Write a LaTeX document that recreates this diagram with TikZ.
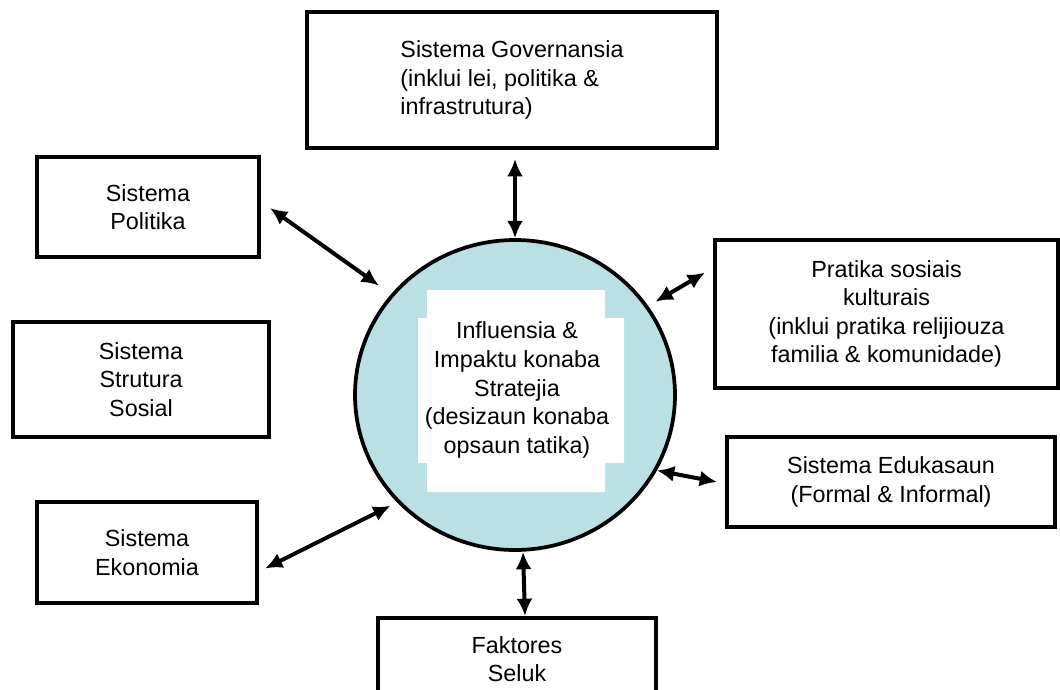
\documentclass[tikz,border=0pt]{standalone}
\usepackage{fontspec}
\setmainfont{Liberation Sans}
\usetikzlibrary{arrows.meta,shapes.geometric}
\definecolor{coreblue}{RGB}{186,224,228}
\tikzset{>={Latex[length=13pt,width=12pt]}}

\begin{document}
\begin{tikzpicture}[x=0.75pt,y=-0.75pt,
		txt/.style={font=\fontsize{17.5}{21.4}\selectfont, align=center},
		sysbox/.style={draw, line width=3pt, txt, inner sep=0pt},
		link/.style={<->, line width=3pt}]
		\useasboundingbox (0,0) rectangle (1060,689);
		\clip (0,0) rectangle (1060,689);
		\node[ellipse, draw, line width=2.8pt, fill=coreblue, minimum width=240pt, minimum height=232.5pt] (core) at (515,395) {};
		\fill[white] (427,290) rectangle (605,492) (418,318) rectangle (624,463);
		\node[txt] (coretext) at (517,390) {Influensia \&\\Impaktu konaba\\Stratejia\\(desizaun konaba\\opsaun tatika)};
		\node[sysbox, align=left, minimum width=307.5pt, minimum height=102pt] (gov) at (512,80) {Sistema Governansia\\(inklui lei, politika \&\\infrastrutura)};
		\node[sysbox, minimum width=166.5pt, minimum height=75pt] (pol) at (148,207) {Sistema\\Politika};
		\node[sysbox, minimum width=192pt, minimum height=86.25pt] (soc) at (141,379.5) {Sistema\\Strutura\\Sosial};
		\node[sysbox, minimum width=165pt, minimum height=75.75pt] (eko) at (147,552.5) {Sistema\\Ekonomia};
		\node[sysbox, minimum width=257.25pt, minimum height=111pt] (pra) at (886.5,314) {Pratika sosiais\\kulturais\\(inklui pratika relijiouza\\familia \& komunidade)};
		\node[sysbox, minimum width=246pt, minimum height=67.5pt] (edu) at (891,482) {Sistema Edukasaun\\(Formal \& Informal)};
		\node[sysbox, minimum width=208.5pt, minimum height=61.5pt] (fak) at (517,659) {Faktores\\Seluk};
		% links to the centre
		\draw[link, shorten <=6.75pt] (gov.south -| core.north) -- (core.north);
		\draw[link] ([xshift=6.75pt,yshift=-0.75pt]pol.east) -- ([xshift=-7.5pt,yshift=8.25pt]core.142);
		\draw[link] ([xshift=4.5pt,yshift=4.5pt]core.33) -- ([xshift=-6pt,yshift=31pt]pra.west);
		\draw[link] (core.-28) -- ([xshift=-6pt]edu.west);
		\draw[link] ([xshift=4.5pt,yshift=-12pt]eko.east) -- ([xshift=-3pt,yshift=-4.5pt]core.221);
		\draw[link] ([xshift=6pt]core.south) -- ([xshift=6pt]fak.north);
	\end{tikzpicture}
\end{document}
